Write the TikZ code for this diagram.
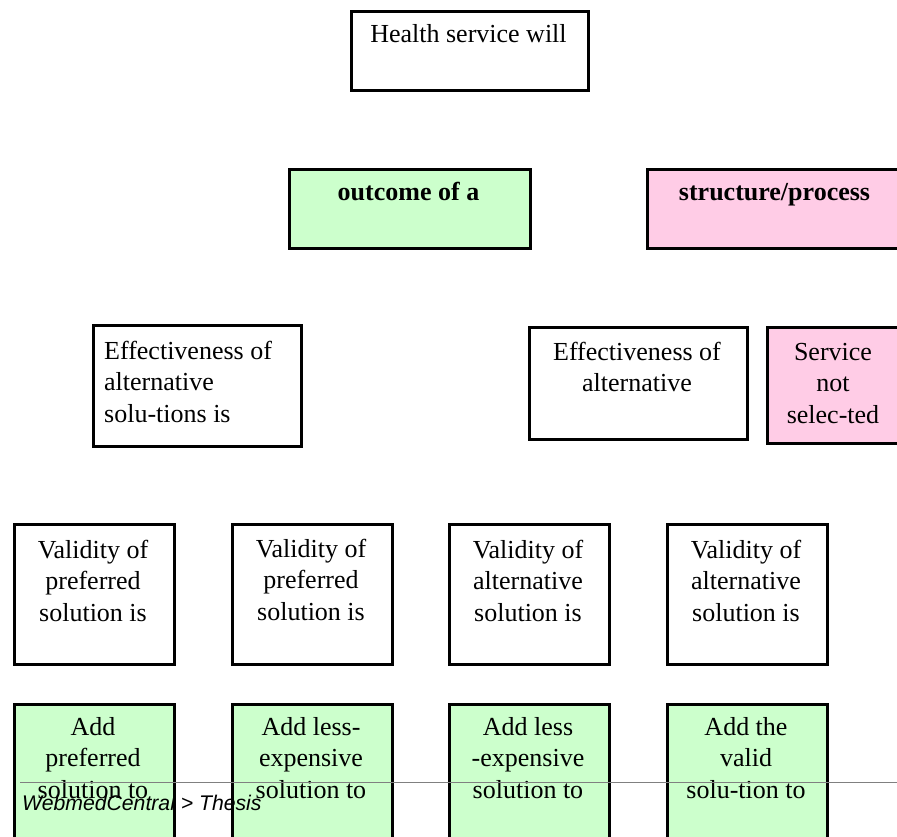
\documentclass[tikz,border=0pt]{standalone}
\usepackage{fontspec}
\setmainfont{Liberation Serif}
\newfontfamily\arialfont{Liberation Sans}
\definecolor{lgreen}{HTML}{CCFFCC}
\definecolor{lpink}{HTML}{FFCCE6}
\begin{document}
\begin{tikzpicture}[x=1pt,y=-1pt,
  bx/.style={draw=black, line width=3pt, inner sep=0pt, anchor=north west},
  gbx/.style={bx, fill=lgreen},
  pbx/.style={bx, fill=lpink},
  txt/.style={inner sep=0pt, font=\fontsize{26}{31.5}\selectfont, align=flush center, anchor=base},
  foot/.style={inner sep=0pt, anchor=base west, font=\arialfont\itshape\fontsize{21.2}{25}\selectfont},
]
\useasboundingbox (0,0) rectangle (897,837);
\clip (0,0) rectangle (897,837);

% level 1
\node[bx, minimum width=237pt, minimum height=79pt] (health) at (350,10) {};
\node[txt, text width=230pt] (healthT) at (468.5,43) {Health service will};

% level 2
\node[gbx, minimum width=241pt, minimum height=79pt] (outcome) at (288,168) {};
\node[txt, text width=230pt] (outcomeT) at (408.5,201) {\textbf{outcome of a}};
\node[pbx, minimum width=257pt, minimum height=79pt] (structure) at (646,168) {};
\node[txt, text width=250pt] (structureT) at (774.5,201) {\textbf{structure/process}};

% level 3
\node[bx, minimum width=208pt, minimum height=121pt] (eff1) at (92,324) {};
\node[txt, anchor=base west, align=flush left, text width=190pt] (eff1T) at (104,359) {Effectiveness of\\alternative\\solu-tions is};
\node[bx, minimum width=218pt, minimum height=112pt] (eff2) at (528,326) {};
\node[txt, text width=210pt] (eff2T) at (637,360) {Effectiveness of\\alternative};
\node[pbx, minimum width=134pt, minimum height=116pt] (service) at (766,326) {};
\node[txt, text width=130pt] (serviceT) at (833,360) {Service\\not\\selec-ted};

% level 4
\node[bx, minimum width=160pt, minimum height=140pt] (val1) at (13,523) {};
\node[txt, text width=156pt] (val1T) at (93,558) {Validity of\\preferred\\solution is};
\node[bx, minimum width=160pt, minimum height=140pt] (val2) at (231,523) {};
\node[txt, text width=156pt] (val2T) at (311,557) {Validity of\\preferred\\solution is};
\node[bx, minimum width=160pt, minimum height=140pt] (val3) at (448,523) {};
\node[txt, text width=156pt] (val3T) at (528,558) {Validity of\\alternative\\solution is};
\node[bx, minimum width=160pt, minimum height=140pt] (val4) at (666,523) {};
\node[txt, text width=156pt] (val4T) at (746,558) {Validity of\\alternative\\solution is};

% level 5
\node[gbx, minimum width=160pt, minimum height=150pt] (add1) at (13,703) {};
\node[txt, text width=156pt] (add1T) at (93,735) {Add\\preferred\\solution to};
\node[gbx, minimum width=160pt, minimum height=150pt] (add2) at (231,703) {};
\node[txt, text width=156pt] (add2T) at (311,735) {Add less-\\expensive\\solution to};
\node[gbx, minimum width=160pt, minimum height=150pt] (add3) at (448,703) {};
\node[txt, text width=156pt] (add3T) at (528,735) {Add less\\-expensive\\solution to};
\node[gbx, minimum width=160pt, minimum height=150pt] (add4) at (666,703) {};
\node[txt, text width=156pt] (add4T) at (746,735) {Add the\\valid\\solu-tion to};

% footer rule and label
\coordinate (ruleS) at (20,782);
\coordinate (ruleE) at (897,782);
\draw[draw=gray, line width=1pt] (ruleS) -- (ruleE);
\node[foot] (footer) at (22,810) {WebmedCentral > Thesis};
\end{tikzpicture}
\end{document}
